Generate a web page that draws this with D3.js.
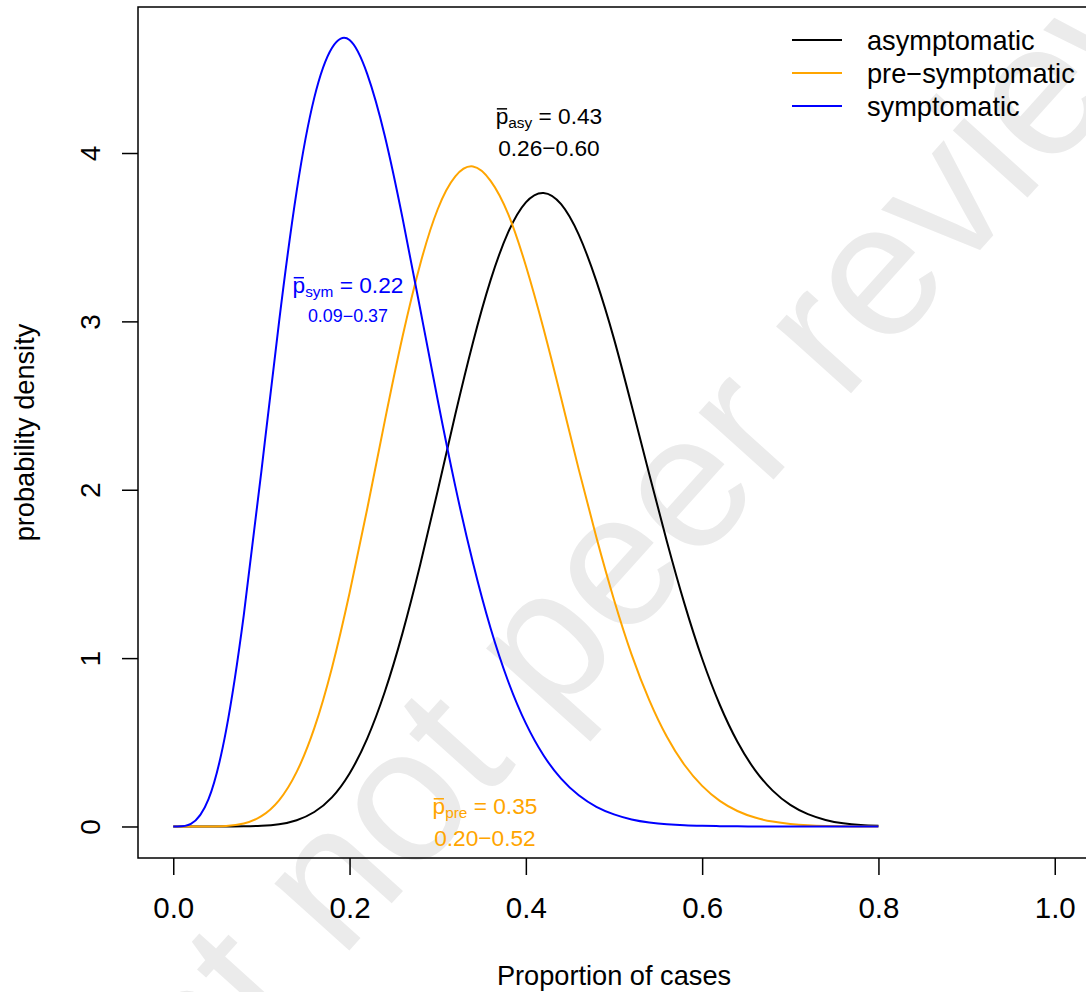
<!DOCTYPE html>
<html><head><meta charset="utf-8">
<script src="https://cdn.jsdelivr.net/npm/d3@7"></script>
<style>
html,body{margin:0;padding:0;background:#fff;}
svg{display:block;font-family:"Liberation Sans",Arial,Helvetica,sans-serif;}
</style>
</head><body>
<svg id="chart" width="1086" height="992"></svg>
<script>
// ---------------- data ----------------
const xGrid = [0,0.02,0.04,0.06,0.08,0.10,0.12,0.14,0.16,0.18,0.20,0.22,0.24,0.26,0.28,0.30,0.32,0.34,0.36,0.38,0.40,
               0.42,0.44,0.46,0.48,0.50,0.52,0.54,0.56,0.58,0.60,0.62,0.64,0.66,0.68,0.70,0.72,0.74,0.76,0.78,0.80];
const asymptomatic = [0,0,0,0,0.001,0.004,0.013,0.037,0.086,0.173,0.315,0.522,0.800,1.147,1.551,1.994,2.448,2.875,3.245,3.530,3.707,
               3.763,3.696,3.515,3.239,2.896,2.500,2.092,1.693,1.322,0.996,0.723,0.503,0.335,0.213,0.128,0.073,0.039,0.019,0.009,0.004];
const preSymptomatic = [0,0,0,0.003,0.018,0.061,0.155,0.324,0.584,0.942,1.387,1.886,2.409,2.907,3.337,3.666,3.861,3.920,3.835,3.637,3.330,
               2.957,2.545,2.121,1.718,1.347,1.021,0.751,0.533,0.365,0.241,0.152,0.092,0.053,0.029,0.015,0.007,0.003,0.001,0,0];
const symptomatic = [0,0.015,0.162,0.572,1.255,2.111,2.996,3.774,4.329,4.624,4.671,4.470,4.101,3.616,3.078,2.533,2.020,1.566,1.177,0.861,0.612,
               0.423,0.284,0.185,0.117,0.072,0.042,0.024,0.013,0.007,0.004,0.002,0.001,0,0,0,0,0,0,0,0];
const seriesNames = ["asymptomatic", "pre\u2212symptomatic", "symptomatic"];
const seriesValues = [asymptomatic, preSymptomatic, symptomatic];
const seriesColors = ["#000000", "#FFA500", "#0000FF"];
const xTicks = [0, 0.2, 0.4, 0.6, 0.8, 1.0];
const xTickLabels = ["0.0", "0.2", "0.4", "0.6", "0.8", "1.0"];
const yTicks = [0, 1, 2, 3, 4];
const yTickLabels = ["0", "1", "2", "3", "4"];
const xLimits = [0, 1];
const yLimits = [0, 4.68];
const annSubs = ["asy", "sym", "pre"];
const annMeans = ["0.43", "0.22", "0.35"];
const annRanges = ["0.26\u22120.60", "0.09\u22120.37", "0.20\u22120.52"];
const watermarkText = "Preprint not peer reviewed";

// ---------------- layout ----------------
const plot = {left: 138, right: 1090, top: 7, bottom: 858};
const svg = d3.select("#chart");
const titleFont = 27.2, legFont = 27.2, xTickFont = 29.5, yTickFont = 28;

// R-style 4% axis expansion
const pad = (lim) => { const d = (lim[1]-lim[0])*0.04; return [lim[0]-d, lim[1]+d]; };
const x = d3.scaleLinear().domain(pad(xLimits)).range([plot.left, plot.right]);
const y = d3.scaleLinear().domain(pad(yLimits)).range([plot.bottom, plot.top]);

// watermark (behind)
const wmAngle = -48, wmSize = 190;
svg.append("text")
  .attr("transform", `translate(-140,1494) rotate(${wmAngle})`)
  .attr("fill", "#ebebeb")
  .style("font-size", wmSize + "px")
  .text(watermarkText);

// curves
const line = d3.line()
  .x((d, i) => x(xGrid[i]))
  .y(d => y(d))
  .curve(d3.curveNatural);
seriesValues.forEach((vals, k) => {
  svg.append("path")
    .datum(vals)
    .attr("d", line)
    .attr("fill", "none")
    .attr("stroke", seriesColors[k])
    .attr("stroke-width", 2);
});

// box
svg.append("rect")
  .attr("x", plot.left).attr("y", plot.top)
  .attr("width", plot.right - plot.left).attr("height", plot.bottom - plot.top)
  .attr("fill", "none").attr("stroke", "#000").attr("stroke-width", 1.5);

// x axis
const xAxis = d3.axisBottom(x).tickValues(xTicks).tickSize(17).tickPadding(0)
  .tickFormat((d, i) => xTickLabels[i]);
const gx = svg.append("g").attr("transform", `translate(0,${plot.bottom})`).call(xAxis);
gx.select(".domain").remove();
gx.selectAll(".tick line").attr("stroke", "#000").attr("stroke-width", 1.5);
gx.selectAll(".tick text").attr("y", 60).attr("dy", null)
  .attr("fill", "#000").style("font-size", xTickFont + "px").style("font-family", "'Liberation Sans',Arial,sans-serif");

// y axis
const yAxis = d3.axisLeft(y).tickValues(yTicks).tickSize(16).tickFormat((d, i) => yTickLabels[i]);
const gy = svg.append("g").attr("transform", `translate(${plot.left},0)`).call(yAxis);
gy.select(".domain").remove();
gy.selectAll(".tick line").attr("stroke", "#000").attr("stroke-width", 1.5);
gy.selectAll(".tick text")
  .attr("x", null).attr("dy", null)
  .attr("text-anchor", "middle")
  .attr("transform", "translate(-38,0) rotate(-90)")
  .attr("fill", "#000").style("font-size", yTickFont + "px").style("font-family", "'Liberation Sans',Arial,sans-serif");

// axis titles
svg.append("text")
  .attr("x", (plot.left + plot.right) / 2).attr("y", 985)
  .attr("text-anchor", "middle").style("font-size", titleFont + "px")
  .text("Proportion of cases");
svg.append("text")
  .attr("transform", `translate(34,${(plot.top + plot.bottom) / 2}) rotate(-90)`)
  .attr("text-anchor", "middle").style("font-size", titleFont + "px")
  .text("probability density");

// legend
const legX1 = 792, legX2 = 842, legTextX = 867, legY0 = 40, legDY = 33;
seriesNames.forEach((name, k) => {
  const ly = legY0 + k * legDY;
  svg.append("line").attr("x1", legX1).attr("x2", legX2).attr("y1", ly).attr("y2", ly)
    .attr("stroke", seriesColors[k]).attr("stroke-width", 2);
  svg.append("text").attr("x", legTextX).attr("y", ly + 10)
    .style("font-size", legFont + "px").attr("fill", "#000").text(name);
});

// annotations  (anchor positions in data coordinates)
const annColors = [seriesColors[0], seriesColors[2], seriesColors[1]];
const annPos = [
  {x: 0.4262, y1: 4.172, y2: 3.982, s2: 22.7},
  {x: 0.1982, y1: 3.169, y2: 2.996, s2: 17.9},
  {x: 0.3536, y1: 0.0742, y2: -0.1158, s2: 22.7}
];
const s1 = 22.7, subSize = 15.4, subShift = 4;
annSubs.forEach((sub, k) => {
  const p = annPos[k];
  const g = svg.append("g").attr("fill", annColors[k]);
  const t = g.append("text").attr("x", x(p.x)).attr("y", y(p.y1))
    .attr("text-anchor", "middle").style("font-size", s1 + "px");
  t.append("tspan").text("p");
  t.append("tspan").attr("dy", subShift).style("font-size", subSize + "px").text(sub);
  t.append("tspan").attr("dy", -subShift).text(" = " + annMeans[k]);
  const e = t.node().getExtentOfChar(0);
  const by = y(p.y1) - 0.67 * s1;
  g.append("line").attr("x1", e.x + 1.2).attr("x2", e.x + e.width - 1.2)
    .attr("y1", by).attr("y2", by).attr("stroke", annColors[k]).attr("stroke-width", 1.5);
  g.append("text").attr("x", x(p.x)).attr("y", y(p.y2))
    .attr("text-anchor", "middle").style("font-size", p.s2 + "px").text(annRanges[k]);
});
</script>
</body></html>
